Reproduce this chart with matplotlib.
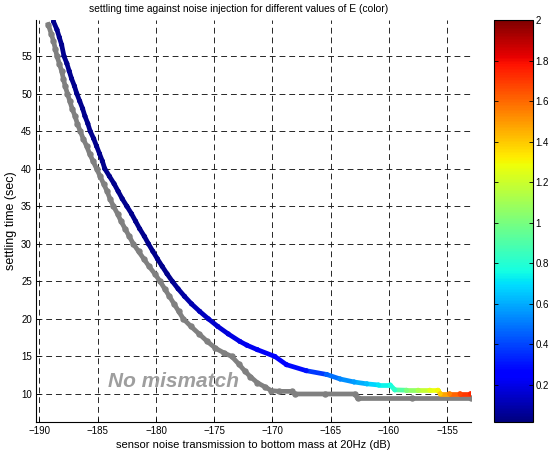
import numpy as np
import matplotlib
matplotlib.use('Agg')
import matplotlib.pyplot as plt
from matplotlib.collections import LineCollection
from matplotlib.colors import Normalize
from matplotlib.cm import ScalarMappable

plt.rcParams['font.family'] = ['Liberation Sans', 'DejaVu Sans']
plt.rcParams['font.size'] = 7

# curve with mismatch, coloured by E
x_mis = [-188.8, -188.5, -188.3, -188.1, -187.9, -187.65, -187.45, -187.25, -187.0, -186.8,
         -186.55, -186.3, -186.1, -185.85, -185.65, -185.35, -185.1, -184.85, -184.6, -184.4,
         -184.0, -183.6, -183.25, -182.9, -182.5, -182.1, -181.75, -181.4, -181.0, -180.65,
         -180.27, -179.88, -179.47, -179.05, -178.6, -178.1, -177.55, -176.95, -176.25, -175.5,
         -174.7, -173.8, -172.8, -172.2, -171.3, -169.8, -168.8, -167.1, -165.35, -164.2,
         -163.0, -161.9, -160.9, -159.9, -159.5, -158.5, -157.5, -156.5, -155.8, -155.6,
         -154.8, -153.9, -153.0]
t_mis = [59.6, 58.5, 57.5, 56.5, 55.0, 54.0, 53.0, 52.0, 51.0, 50.0,
         49.0, 48.0, 47.0, 46.0, 45.0, 44.0, 43.0, 42.0, 41.0, 40.0,
         39.0, 38.0, 37.0, 36.0, 35.0, 34.0, 33.0, 32.0, 31.0, 30.0,
         29.0, 28.0, 27.0, 26.0, 25.0, 24.0, 23.0, 22.0, 21.0, 20.0,
         19.0, 18.0, 17.0, 16.5, 15.9, 15.0, 13.9, 13.1, 12.6, 12.0,
         11.6, 11.35, 11.2, 11.2, 10.55, 10.5, 10.5, 10.5, 10.5, 10.05,
         10.05, 10.05, 10.05]
E_mis = [0.04] * 34 + [0.05, 0.06, 0.08, 0.10, 0.12, 0.14,
         0.16, 0.18, 0.20, 0.21, 0.22, 0.24, 0.26, 0.30, 0.45, 0.52,
         0.57, 0.63, 0.72, 0.76, 0.82, 1.00, 1.12, 1.25, 1.30, 1.40,
         1.55, 1.67, 1.74]

# no mismatch
x_nom = [-189.25, -189.0, -188.8, -188.65, -188.5, -188.3, -188.1, -187.95, -187.8, -187.6,
         -187.4, -187.2, -186.95, -186.75, -186.5, -186.25, -185.95, -185.7, -185.4, -185.1,
         -184.8, -184.5, -184.2, -183.95, -183.65, -183.3, -183.0, -182.65, -182.3, -181.95,
         -181.5, -181.05, -180.6, -180.1, -179.65, -179.25, -178.85, -178.45, -178.05, -177.65,
         -177.0, -176.3, -175.6, -174.9, -174.2, -173.5, -172.9, -172.4, -171.9, -171.3,
         -170.6, -170.1, -169.4, -168.3, -168.1, -165.5, -162.9, -162.7, -158.0, -153.0]
t_nom = [59.2, 58.0, 57.0, 56.0, 55.0, 54.0, 53.0, 52.0, 51.0, 50.0,
         49.0, 48.0, 47.0, 46.0, 45.0, 44.0, 43.0, 42.0, 41.0, 40.0,
         39.0, 38.0, 37.0, 36.0, 35.0, 34.0, 33.0, 32.0, 31.0, 30.0,
         29.0, 28.0, 27.0, 26.0, 25.0, 24.0, 23.0, 22.0, 21.0, 20.0,
         19.0, 18.0, 17.0, 16.1, 15.5, 15.0, 14.0, 13.1, 12.3, 11.5,
         10.9, 10.45, 10.35, 10.35, 10.0, 10.0, 10.0, 9.4, 9.4, 9.4]

xticks = [-190, -185, -180, -175, -170, -165, -160, -155]
yticks = [10, 15, 20, 25, 30, 35, 40, 45, 50, 55]
cticks = [0.2, 0.4, 0.6, 0.8, 1, 1.2, 1.4, 1.6, 1.8, 2]

fig = plt.figure(figsize=(5.53, 4.51), dpi=100)
ax = fig.add_axes([36 / 553, 29 / 451, 435 / 553, 402 / 451])

norm = Normalize(0.015, 2)
cmap = plt.get_cmap('jet')

ax.plot(x_nom, t_nom, '-o', color='0.5', lw=3.4, ms=3.6, zorder=3)

pts = np.column_stack([x_mis, t_mis])
segs = np.stack([pts[:-1], pts[1:]], axis=1)
e = np.array(E_mis)
lc = LineCollection(segs, colors=cmap(norm((e[:-1] + e[1:]) / 2)), linewidths=3.4,
                    capstyle='round', zorder=4)
ax.add_collection(lc)
ax.scatter(x_mis, t_mis, c=E_mis, cmap=cmap, norm=norm, s=13, linewidths=0, zorder=5)

ax.set_xlim(-190.3, -152.96)
ax.set_ylim(6.27, 59.8)
ax.set_xticks(xticks)
ax.set_yticks(yticks)
ax.grid(True, color='0.15', lw=0.7, linestyle=(0, (6, 4)))
ax.set_axisbelow(True)
ax.spines['top'].set_visible(False)
ax.spines['right'].set_visible(False)
ax.tick_params(direction='in', length=3, width=0.6, pad=3)

ax.set_title('settling time against noise injection for different values of E (color)',
             fontsize=7.4, x=0.4655, pad=6)
ax.set_xlabel('sensor noise transmission to bottom mass at 20Hz (dB)', fontsize=8,
              labelpad=3)
ax.set_ylabel('settling time (sec)', fontsize=9, labelpad=3)
ax.text(-184.1, 10.9, 'No mismatch', fontsize=15, fontweight='bold', fontstyle='italic',
        color='0.62', zorder=6)

cax = fig.add_axes([494 / 553, 29 / 451, 39 / 553, 402 / 451])
cb = fig.colorbar(ScalarMappable(norm=norm, cmap=cmap), cax=cax, ticks=cticks)
cb.ax.set_yticklabels(['%g' % c for c in cticks])
cax.tick_params(direction='in', left=True, right=True, length=3, width=0.6, pad=2)

fig.savefig('out.png', dpi=100)
